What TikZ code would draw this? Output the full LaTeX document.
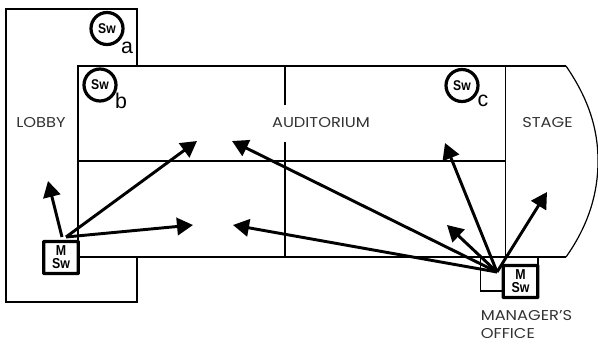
\documentclass[tikz,border=0pt]{standalone}
\usepackage{fontspec}
\setmainfont{Poppins}[FakeStretch=1.14]
\newfontfamily\swfont{Liberation Sans}
\newfontfamily\swnarrow{Liberation Sans}[FakeStretch=0.86]
\usetikzlibrary{arrows.meta}
\definecolor{labelgrey}{HTML}{333333}
\tikzset{
  wall/.style={draw=black,line width=0.9pt},
  roomlabel/.style={font=\fontsize{10.7}{13.5}\selectfont,text=labelgrey,inner sep=0pt,align=left},
  swcircle/.style={circle,draw=black,line width=2.4pt,minimum size=24pt,inner sep=0pt,font=\swnarrow\bfseries\fontsize{10.6}{11}\selectfont},
  mswbox/.style={draw=black,fill=white,line width=2.4pt,rounded corners=0.4pt,minimum width=26pt,minimum height=24pt,inner sep=0pt,align=center,font=\swnarrow\bfseries\fontsize{10.8}{9.8}\selectfont},
  letter/.style={font=\swfont\fontsize{16}{16}\selectfont,inner sep=0pt},
  ray/.style={draw=black,line width=2.2pt,-{Triangle[length=12pt,width=13pt]}},
}
\begin{document}
\begin{tikzpicture}[x=0.75pt,y=-0.75pt]
\useasboundingbox (0,0) rectangle (598,343);
% lobby
\draw[wall] (137,66) -- (137,9) -- (6,9) -- (6,302) -- (137,302) -- (137,257);
% auditorium
\draw[wall] (78,257) -- (78,66) -- (566,66);
\draw[wall] (78,257) -- (566,257);
\draw[wall] (78,161) -- (505.5,161);
\draw[line width=0.8pt] (285,66) -- (285,105) (285,142) -- (285,257);
\draw[wall] (505.5,66) -- (505.5,257);
% stage
\draw[wall] (566,66) .. controls (588,98) and (598,128) .. (598,161) .. controls (598,194) and (588,226) .. (566,257);
% manager's office
\draw[wall] (538,257) -- (538,266);
\draw[wall] (504,291) -- (480.5,291) -- (480.5,257);
% labels
\node[roomlabel] (lobby) at (41,122.5) {LOBBY};
\node[roomlabel] (aud) at (321,122.5) {AUDITORIUM};
\node[roomlabel] (stage) at (547.5,122.5) {STAGE};
\node[roomlabel,anchor=north west] (office) at (480.5,310) {MANAGER'S\\OFFICE};
% switches
\node[swcircle] (swa) at (107,28.5) {Sw};
\node[letter] (la) at (127,48) {a};
\node[swcircle] (swb) at (100,85) {Sw};
\node[letter] (lb) at (121,101) {b};
\node[swcircle] (swc) at (462,85.5) {Sw};
\node[letter] (lc) at (483,101) {c};
\node[mswbox] (m1) at (61,257.5) {M\\Sw};
\node[mswbox] (m2) at (520.5,281.5) {M\\Sw};
% origins and targets
\coordinate (o1) at (66,237);
\coordinate (o1b) at (62,237);
\coordinate (o2) at (497,272);
\coordinate (t1) at (48,181);
\coordinate (t2) at (197,141);
\coordinate (t3) at (193,225);
\coordinate (t4) at (232,141);
\coordinate (t5) at (233,225);
\coordinate (t6) at (447,225);
\coordinate (t7) at (445,143);
\coordinate (t8) at (547,192);
\draw[ray] (o1b) -- (t1);
\draw[ray] (o1) -- (t2);
\draw[ray] (o1) -- (t3);
\draw[ray] (o2) -- (t4);
\draw[ray] (o2) -- (t5);
\draw[ray] (o2) -- (t6);
\draw[ray] (o2) -- (t7);
\draw[ray] (o2) -- (t8);
\end{tikzpicture}
\end{document}
